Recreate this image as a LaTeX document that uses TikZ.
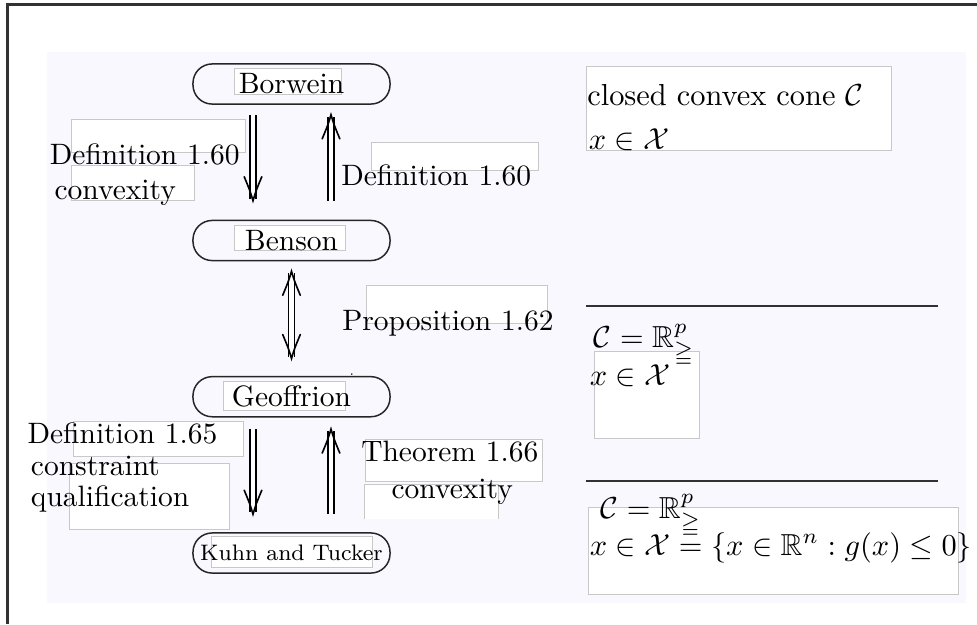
\documentclass[tikz,border=0pt]{standalone}
\usepackage{amsmath,amssymb}
\usepackage{fontspec}
\usetikzlibrary{arrows.meta,calc}
\definecolor{bgc}{RGB}{248,248,254}
\definecolor{framec}{RGB}{50,50,50}
\definecolor{boxc}{RGB}{200,200,200}
\newcommand{\vhead}[2]{%
  \draw[line width=0.55pt, line cap=round] ($(#1)+(-8.8,-24*#2)$) .. controls ($(#1)+(-3,-10*#2)$) .. (#1)
     .. controls ($(#1)+(3,-10*#2)$) .. ($(#1)+(8.8,-24*#2)$);}
\begin{document}
\begin{tikzpicture}[x=0.339pt,y=-0.339pt,
  stage/.style={draw=black!85, line width=0.5pt, rounded corners=6.5pt, minimum width=66.8pt, minimum height=13.6pt, inner sep=0pt, font=\normalsize},
  wbox/.style={draw=boxc, fill=white, line width=0.3pt},
  dbl/.style={double=white, double distance=1.6pt, line width=0.5pt, draw=black},
  lbl/.style={anchor=base west, inner sep=0pt, font=\normalsize},
  rlbl/.style={lbl, scale=1.03, transform shape},
  sep/.style={draw=framec, line width=0.6pt},
]
\useasboundingbox (0,0) rectangle (977,624);
\fill[bgc] (47,52) rectangle (966,603);
\draw[framec, line width=0.7pt] (7.5,624) -- (7.5,4.5) -- (977,4.5);

% white label boxes
\draw[wbox] (71,119) rectangle (245,152);
\draw[wbox] (71,165) rectangle (194,200);
\draw[wbox] (371,142) rectangle (538,170);
\draw[wbox] (366,285) rectangle (547,323);
\draw[wbox] (73,421) rectangle (243,456);
\draw[wbox] (69,463) rectangle (229,529);
\draw[wbox] (365,439) rectangle (542,481);
\fill[white] (364,484) rectangle (498,519);
\draw[draw=boxc, line width=0.3pt] (364,519) -- (364,484) -- (498,484) -- (498,519);
\draw[wbox] (586,66) rectangle (891,150);
\draw[wbox] (594,351) rectangle (699,438);
\draw[wbox] (588,507) rectangle (958,594);
% boxes inside stage nodes
\draw[wbox] (234.3,68.3) rectangle (341.7,94.3);
\draw[wbox] (234.3,225.7) rectangle (345.7,250.5);
\draw[wbox] (223.3,381.7) rectangle (345.7,410);
\draw[wbox] (211.7,536.7) rectangle (372.7,567.3);

% separators
\draw[sep] (586,306) -- (938,306);
\draw[sep] (586,481) -- (938,481);

% stage nodes
\node[stage] (bor) at (291.5,84) {Borwein};
\node[stage] (ben) at (291.5,240.5) {Benson};
\node[stage] (geo) at (291.5,396.7) {Geoffrion};
\node[stage, font=\fontsize{7.6}{9}\selectfont] (kt) at (291.5,553) {Kuhn and Tucker};

% arrow end points
\coordinate (a1s) at ($(bor.south)+(-38.5,10)$);
\coordinate (a1t) at ($(ben.north)+(-38.5,-19)$);
\coordinate (a2s) at ($(ben.north)+(39.5,-19)$);
\coordinate (a2t) at ($(bor.south)+(39.5,10)$);
\coordinate (a3s) at ($(ben.south)+(0,10)$);
\coordinate (a3t) at ($(geo.north)+(0,-17.4)$);
\coordinate (a4s) at ($(geo.south)+(-38.5,11.6)$);
\coordinate (a4t) at ($(kt.north)+(-38.5,-18)$);
\coordinate (a5s) at ($(kt.north)+(39.5,-18)$);
\coordinate (a5t) at ($(geo.south)+(39.5,11.6)$);

% arrows
\draw[dbl, shorten >=0.6pt] (a1s) -- (a1t); \vhead{a1t}{1}
\draw[dbl, shorten >=0.6pt] (a2s) -- (a2t); \vhead{a2t}{-1}
\draw[dbl, shorten >=0.6pt, shorten <=0.6pt] (a3s) -- (a3t); \vhead{a3t}{1} \vhead{a3s}{-1}
\draw[dbl, shorten >=0.6pt] (a4s) -- (a4t); \vhead{a4t}{1}
\draw[dbl, shorten >=0.6pt] (a5s) -- (a5t); \vhead{a5t}{-1}
\fill (351.8,374) circle (0.8);

% labels
\node[lbl] (l1a) at (49.3,164) {Definition 1.60};
\node[lbl] (l1b) at (54,199.5) {convexity};
\node[lbl] (r1) at (340.7,185.7) {Definition 1.60};
\node[lbl] (r2) at (341.7,330.7) {Proposition 1.62};
\node[lbl] (l3a) at (27,443.3) {Definition 1.65};
\node[lbl] (l3b) at (30.4,475) {constraint};
\node[lbl] (l3c) at (30.4,506) {qualification};
\node[lbl] (r3a) at (360.7,461.7) {Theorem 1.66};
\node[lbl] (r3b) at (391,498.3) {convexity};

\node[rlbl] (c1a) at (586.7,105) {closed convex cone $\mathcal{C}$};
\node[rlbl] (c1b) at (588.3,149) {$x\in\mathcal{X}$};
\node[rlbl] (c2a) at (593.3,347.7) {$\mathcal{C}=\mathbb{R}^p_{\geqq}$};
\node[rlbl] (c2b) at (589.3,385) {$x\in\mathcal{X}$};
\node[rlbl] (c3a) at (600,518.3) {$\mathcal{C}=\mathbb{R}^p_{\geqq}$};
\node[rlbl] (c3b) at (589.3,555) {$x \in \mathcal{X} = \{x\in\mathbb{R}^n : g(x)\le 0\}$};
\end{tikzpicture}
\end{document}
